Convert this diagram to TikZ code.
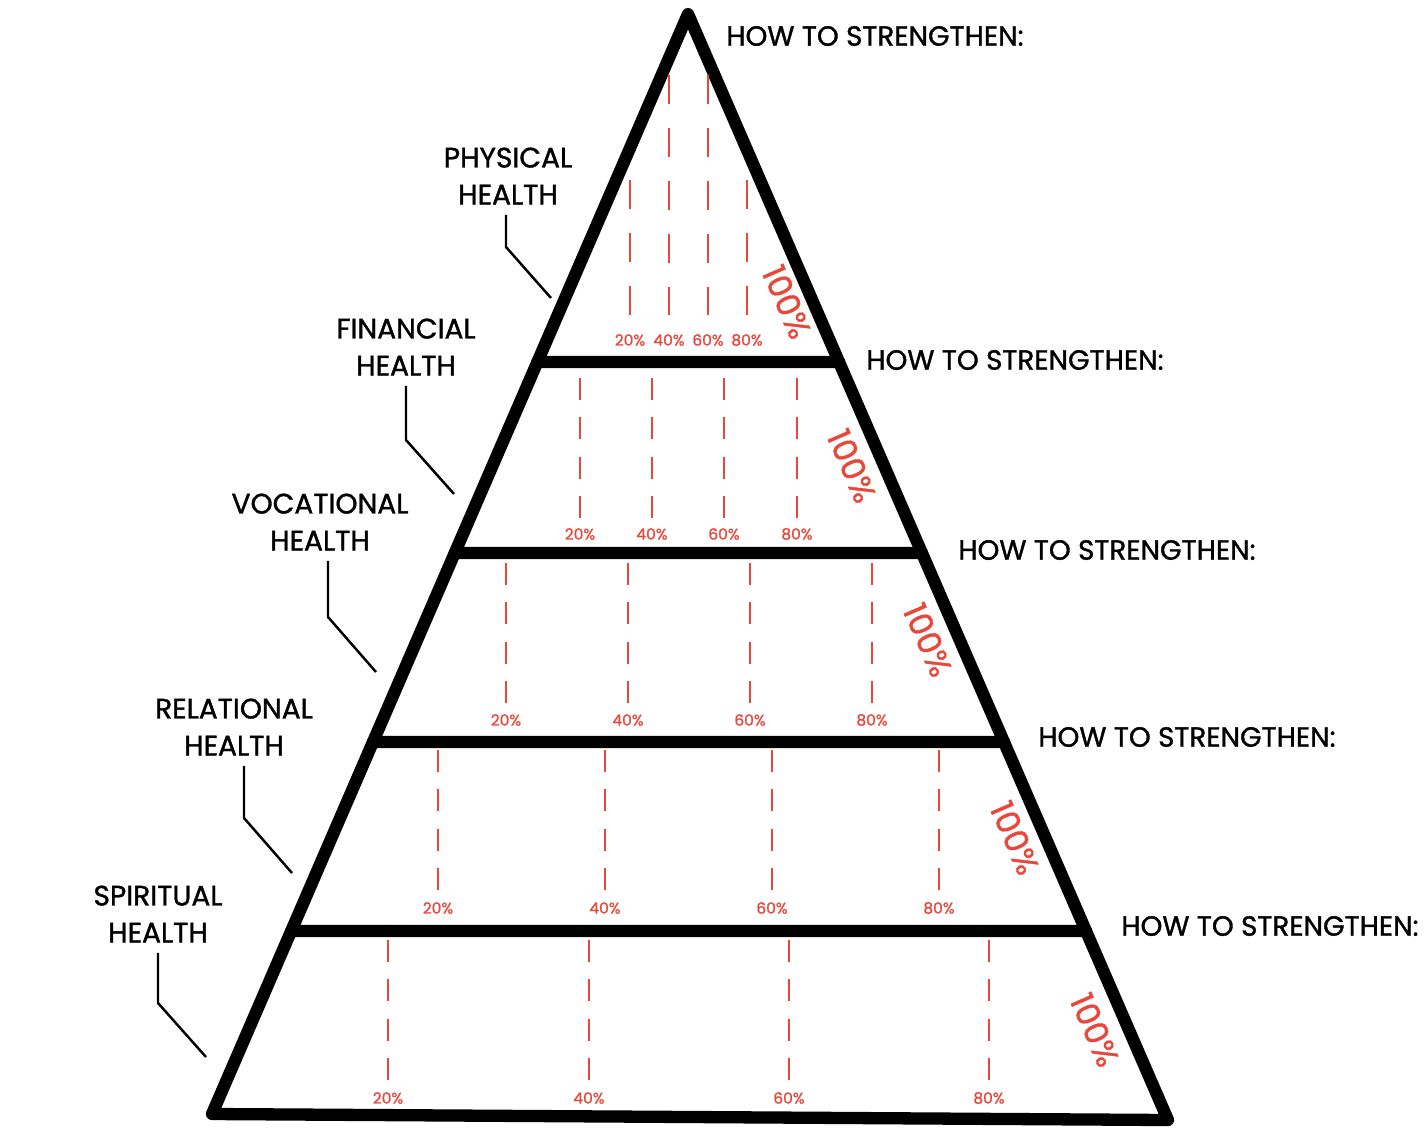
\documentclass[tikz,border=0pt]{standalone}
\usepackage{fontspec}
\setmainfont{Poppins}
\newfontface\medium{Poppins}[FakeBold=1.2]
\usepackage{xcolor}
\usepackage{tikz}
\definecolor{markred}{HTML}{E8473A}

\begin{document}
\begin{tikzpicture}[x=0.02cm, y=-0.02cm,
    frame/.style={line width=7pt, line join=round, line cap=round},
    guide/.style={markred, line width=1.3pt, dash pattern=on 0.44cm off 0.347cm},
    leader/.style={line width=1.4pt},
    area/.style={align=center, font=\medium\fontsize{16}{21}\selectfont, inner sep=1pt, outer sep=5pt},
    howto/.style={anchor=west, font=\medium\fontsize{15.8}{18}\selectfont, inner sep=0pt},
    pct/.style={markred, font=\medium\fontsize{8.8}{10}\selectfont, inner sep=0pt},
    full/.style={markred, rotate=-66.5, font=\medium\fontsize{18.5}{20}\selectfont, inner sep=0pt}]
    \useasboundingbox (0,0) rectangle (1426,1132);

    % pyramid
    \coordinate (T) at (688,14);
    \coordinate (L) at (212,1114);
    \coordinate (R) at (1168,1120);
    \draw[frame] (T) -- (L) -- (R) -- cycle;
    \foreach \y in {362,553,742,931}
        \draw[frame] (intersection of T--L and 0,\y--100,\y) -- (intersection of T--R and 0,\y--100,\y);

    % scale marks
    \foreach \x/\t/\top in {630/20/180, 669/40/75, 708/60/75, 747/80/180} {
        \draw[guide, dash pattern=on 0.58cm off 0.48cm] (\x,\top) -- (\x,315);
        \node[pct] (b1-\t) at (\x,340) {\t\%};
    }
    \foreach \x/\t in {580/20, 652/40, 724/60, 797/80} {
        \draw[guide] (\x,378) -- (\x,518);
        \node[pct] (b2-\t) at (\x,534) {\t\%};
    }
    \foreach \x/\t in {506/20, 628/40, 750/60, 872/80} {
        \draw[guide] (\x,563) -- (\x,703);
        \node[pct] (b3-\t) at (\x,720) {\t\%};
    }
    \foreach \x/\t in {438/20, 605/40, 772/60, 939/80} {
        \draw[guide] (\x,750) -- (\x,890);
        \node[pct] (b4-\t) at (\x,908) {\t\%};
    }
    \foreach \x/\t in {388/20, 589/40, 789/60, 989/80} {
        \draw[guide] (\x,940) -- (\x,1080);
        \node[pct] (b5-\t) at (\x,1098) {\t\%};
    }

    \node[full] (f1) at (787,302) {100\%};
    \node[full] (f2) at (852,466) {100\%};
    \node[full] (f3) at (928,640) {100\%};
    \node[full] (f4) at (1015,838) {100\%};
    \node[full] (f5) at (1095,1030) {100\%};

    % how to strengthen
    \node[howto] (h1) at (726,36) {HOW TO STRENGTHEN:};
    \node[howto] (h2) at (866,360) {HOW TO STRENGTHEN:};
    \node[howto] (h3) at (958,550) {HOW TO STRENGTHEN:};
    \node[howto] (h4) at (1038,737) {HOW TO STRENGTHEN:};
    \node[howto] (h5) at (1121,926) {HOW TO STRENGTHEN:};

    % areas of health
    \node[area] (phys) at (508,176) {PHYSICAL\\HEALTH};
    \node[area] (fin) at (406,347) {FINANCIAL\\HEALTH};
    \node[area] (voc) at (320,522) {VOCATIONAL\\HEALTH};
    \node[area] (rel) at (234,727) {RELATIONAL\\HEALTH};
    \node[area] (spir) at (158,914) {SPIRITUAL\\HEALTH};

    \coordinate (physk) at (506,247);
    \coordinate (physe) at (551,298);
    \coordinate (fink) at (406,440);
    \coordinate (fine) at (454,494);
    \coordinate (vock) at (328,617);
    \coordinate (voce) at (376,672);
    \coordinate (relk) at (244,818);
    \coordinate (rele) at (292,873);
    \coordinate (spirk) at (158,1003);
    \coordinate (spire) at (206,1057);

    \draw[leader] (phys.south -| physk) -- (physk) -- (physe);
    \draw[leader] (fin.south -| fink) -- (fink) -- (fine);
    \draw[leader] (voc.south -| vock) -- (vock) -- (voce);
    \draw[leader] (rel.south -| relk) -- (relk) -- (rele);
    \draw[leader] (spir.south -| spirk) -- (spirk) -- (spire);
\end{tikzpicture}
\end{document}
